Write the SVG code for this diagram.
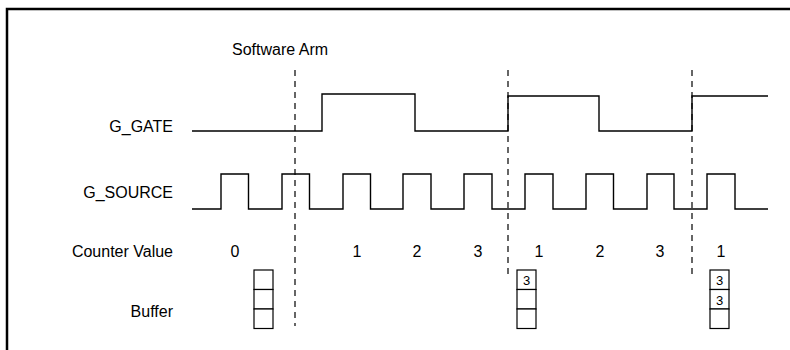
<svg xmlns="http://www.w3.org/2000/svg" width="790" height="350" viewBox="0 0 790 350">
<style>
.lbl{font-family:"Liberation Sans",Arial,sans-serif;font-size:16px;fill:#000}
.r{text-anchor:end}
.c{text-anchor:middle}
.small{font-family:"Liberation Sans",Arial,sans-serif;font-size:13px;fill:#000;text-anchor:middle}
.sig{fill:none;stroke:#000;stroke-width:1.4}
.dash{fill:none;stroke:#000;stroke-width:1.2;stroke-dasharray:6 5}
.buf{fill:#fff;stroke:#000;stroke-width:1.2}
</style>
<rect x="0" y="0" width="790" height="350" fill="#fff"/>
<path d="M7,350 V9 H790" fill="none" stroke="#000" stroke-width="2.5"/>
<g id="labels">
<text class="lbl" x="232" y="55">Software Arm</text>
<text class="lbl r" x="173" y="132">G_GATE</text>
<text class="lbl r" x="173" y="198">G_SOURCE</text>
<text class="lbl r" x="173" y="257">Counter Value</text>
<text class="lbl r" x="173" y="317">Buffer</text>
</g>
<g id="connectors">
<line class="dash" x1="295" y1="70" x2="295" y2="326"/>
<line class="dash" x1="508" y1="70" x2="508" y2="278"/>
<line class="dash" x1="692" y1="70" x2="692" y2="278"/>
</g>
<g id="g_gate">
<path class="sig" d="M192,131 H322 V94 H415 V131 H508 V96 H599 V131 H692 V96 H768"/>
</g>
<g id="g_source">
<path class="sig" d="M192,209 H221 V174 H248.5 V209 H282 V174 H309.5 V209 H343 V174 H370.5 V209 H403 V174 H431 V209 H464 V174 H492 V209 H525 V174 H553 V209 H586 V174 H613.5 V209 H647 V174 H674 V209 H707 V174 H735 V209 H768"/>
</g>
<g id="counter_values">
<text class="lbl c" x="235" y="257">0</text>
<text class="lbl c" x="357" y="257">1</text>
<text class="lbl c" x="417" y="257">2</text>
<text class="lbl c" x="478" y="257">3</text>
<text class="lbl c" x="539" y="257">1</text>
<text class="lbl c" x="600" y="257">2</text>
<text class="lbl c" x="660" y="257">3</text>
<text class="lbl c" x="721" y="257">1</text>
</g>
<g id="buffer1">
<rect class="buf" x="254" y="270" width="19" height="19.5"/>
<rect class="buf" x="254" y="289.5" width="19" height="19.5"/>
<rect class="buf" x="254" y="309" width="19" height="19.5"/>
</g>
<g id="buffer2">
<rect class="buf" x="517" y="270" width="19" height="19.5"/>
<rect class="buf" x="517" y="289.5" width="19" height="19.5"/>
<rect class="buf" x="517" y="309" width="19" height="19.5"/>
<text class="small" x="526.5" y="285">3</text>
</g>
<g id="buffer3">
<rect class="buf" x="710" y="270" width="19" height="19.5"/>
<rect class="buf" x="710" y="289.5" width="19" height="19.5"/>
<rect class="buf" x="710" y="309" width="19" height="19.5"/>
<text class="small" x="719.5" y="285">3</text>
<text class="small" x="719.5" y="304.5">3</text>
</g>
</svg>
